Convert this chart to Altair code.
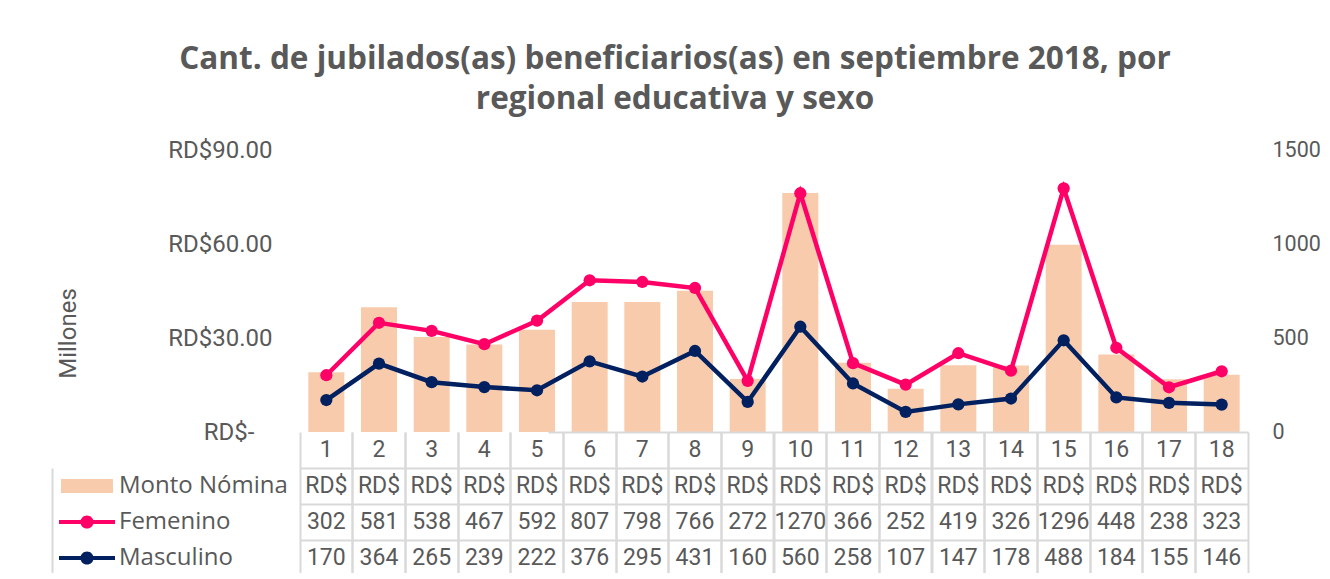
import altair as alt
import pandas as pd

# ---------------- data ----------------
categories = [str(i) for i in range(1, 19)]
monto_millones = [19.1, 39.8, 30.3, 27.9, 32.6, 41.5, 41.5, 45.1, 16.9,
                  76.3, 22.1, 13.8, 21.3, 21.2, 59.8, 24.7, 16.8, 18.3]
femenino = [302, 581, 538, 467, 592, 807, 798, 766, 272,
            1270, 366, 252, 419, 326, 1296, 448, 238, 323]
masculino = [170, 364, 265, 239, 222, 376, 295, 431, 160,
             560, 258, 107, 147, 178, 488, 184, 155, 146]
series = ["Monto Nómina", "Femenino", "Masculino"]
colors = ["#F8CBAD", "#FF0066", "#002060"]
left_ticks = [0, 30, 60, 90]
right_ticks = [0, 500, 1000, 1500]
title_lines = ["Cant. de jubilados(as) beneficiarios(as) en septiembre 2018, por",
               "regional educativa y sexo"]
row_keys = ["hdr"] + series

FONT = "Roboto"
FONT2 = "Open Sans"
GREY = "#595959"
LINE = "#D9D9D9"

df = pd.DataFrame({
    "cat": categories,
    "monto": monto_millones,
    "fem": femenino,
    "masc": masculino,
    "s_monto": series[0],
    "s_fem": series[1],
    "s_masc": series[2],
})

# table (data table under the chart)
rows = []
for c, f, m in zip(categories, femenino, masculino):
    rows.append({"cat": c, "row": "hdr", "txt": c, "part": "hdr"})
    rows.append({"cat": c, "row": series[0], "txt": "RD$", "part": "body"})
    rows.append({"cat": c, "row": series[1], "txt": str(f), "part": "body"})
    rows.append({"cat": c, "row": series[2], "txt": str(m), "part": "body"})
tdf = pd.DataFrame(rows)

W = 1196
LEG_W = 248
H_TOP = 282
ROW_H = 36
H_TAB = ROW_H * len(row_keys)


def xscale():
    return alt.Scale(type="band", domain=categories, paddingInner=0,
                     paddingOuter=0, range=[LEG_W, W])


def xenc(axis=None):
    return alt.X("cat:N", sort=categories, scale=xscale(), axis=axis)


line_sym = ("M-1,-0.075H1V0.075H-1Z "
            "M0.235,0A0.235,0.235,0,1,1,-0.235,0A0.235,0.235,0,1,1,0.235,0Z")
rect_sym = "M-1,-0.27H1V0.27H-1Z"


def legend(x, y, sym, size, label_offset):
    return alt.Legend(orient="none", legendX=x, legendY=y, title=None,
                      symbolType=sym, symbolSize=size, symbolStrokeWidth=0,
                      labelFont=FONT2, labelFontSize=24, labelColor=GREY,
                      labelOffset=label_offset, labelLimit=0, padding=0,
                      labelBaseline="middle")


left_axis = alt.Axis(
    orient="left", offset=-LEG_W, values=left_ticks, grid=False, domain=False,
    ticks=False, tickSize=0, labelPadding=28, labelFont=FONT,
    labelFontSize=24, labelColor=GREY,
    labelExpr="datum.value == 0 ? 'RD$-\u2800' : 'RD$' + format(datum.value, '.2f')",
    title="Millones", titleFont=FONT, titleFontSize=24, titleFontWeight="normal",
    titleColor=GREY, titleX=-220, titleY=183, titleAngle=270, titleAlign="center",
    titleBaseline="bottom")

right_axis = alt.Axis(
    orient="right", values=right_ticks, format="d", grid=False, domain=False,
    ticks=False, tickSize=0, labelPadding=24, labelFont=FONT, labelFontSize=21.5,
    labelColor=GREY, title=None)

yright = alt.Scale(domain=[0, 1500], nice=False, zero=True)

bars = alt.Chart(df).mark_bar(width=alt.RelativeBandSize(0.684)).encode(
    x=xenc(),
    y=alt.Y("monto:Q", scale=alt.Scale(domain=[0, 90], nice=False), axis=left_axis),
    color=alt.Color("s_monto:N", scale=alt.Scale(domain=[series[0]], range=[colors[0]]),
                    legend=legend(9, 310, rect_sym, 2704, 6)),
)

fem_line = alt.Chart(df).mark_line(strokeWidth=4.5, color=colors[1]).encode(
    x=xenc(), y=alt.Y("fem:Q", scale=yright, axis=right_axis))
fem_pts = alt.Chart(df).mark_circle(size=150, opacity=1).encode(
    x=xenc(), y=alt.Y("fem:Q", scale=yright, axis=right_axis),
    color=alt.Color("s_fem:N", scale=alt.Scale(domain=[series[1]], range=[colors[1]]),
                    legend=legend(7, 344, line_sym, 3136, 4)))
masc_line = alt.Chart(df).mark_line(strokeWidth=4.5, color=colors[2]).encode(
    x=xenc(), y=alt.Y("masc:Q", scale=yright, axis=right_axis))
masc_pts = alt.Chart(df).mark_circle(size=150, opacity=1).encode(
    x=xenc(), y=alt.Y("masc:Q", scale=yright, axis=right_axis),
    color=alt.Color("s_masc:N", scale=alt.Scale(domain=[series[2]], range=[colors[2]]),
                    legend=legend(7, 380, line_sym, 3136, 4)))

lines = alt.layer(fem_line, fem_pts, masc_line, masc_pts).resolve_scale(color="independent")

top = alt.layer(bars, lines).resolve_scale(
    y="independent", color="independent").properties(width=W, height=H_TOP)

# ---------------- table ----------------
yrows = alt.Scale(type="band", domain=row_keys, paddingInner=0, paddingOuter=0)
ytab_axis = alt.Axis(
    orient="left", labels=False, ticks=False, title=None, domain=True,
    domainColor=LINE, domainWidth=2, domainDash=[0, ROW_H, H_TAB - ROW_H, 0],
    grid=True, gridWidth=2, bandPosition=0,
    gridColor={"condition": {"test": "datum.value === 'hdr'", "value": "transparent"},
               "value": LINE})

x_top_axis = alt.Axis(orient="top", labels=False, ticks=False, title=None,
                      domain=True, domainColor=LINE, domainWidth=2,
                      domainDash=[0, LEG_W, W - LEG_W, 0], grid=True, gridColor=LINE,
                      gridWidth=2, bandPosition=0)
x_bot_axis = alt.Axis(orient="bottom", labels=False, ticks=False, title=None,
                      domain=True, domainColor=LINE, domainWidth=2,
                      grid=True, gridColor=LINE, gridWidth=2, bandPosition=1)

hdr_txt = alt.Chart(tdf).transform_filter("datum.part == 'hdr'").mark_text(
    font=FONT, fontSize=23, color=GREY, baseline="middle").encode(
    x=xenc(x_top_axis), y=alt.Y("row:N", scale=yrows, axis=ytab_axis), text="txt:N")
body_txt = alt.Chart(tdf).transform_filter("datum.part == 'body'").mark_text(
    font=FONT, fontSize=23, color=GREY, baseline="middle").encode(
    x=xenc(x_bot_axis), y=alt.Y("row:N", scale=yrows, axis=ytab_axis), text="txt:N")

table = alt.layer(hdr_txt, body_txt).resolve_axis(x="independent").properties(
    width=W, height=H_TAB)

chart = alt.vconcat(top, table, spacing=0, bounds="flush").properties(
    title=alt.TitleParams(text=title_lines, font=FONT2, fontSize=31.5,
                          fontWeight="bold", color=GREY, anchor="middle",
                          frame="group", lineHeight=40, offset=23, dx=25),
    padding={"left": 44, "top": 35, "right": 0, "bottom": -3},
).configure_view(stroke=None)

chart.save("out.html", embed_options={"renderer": "svg", "actions": False})
